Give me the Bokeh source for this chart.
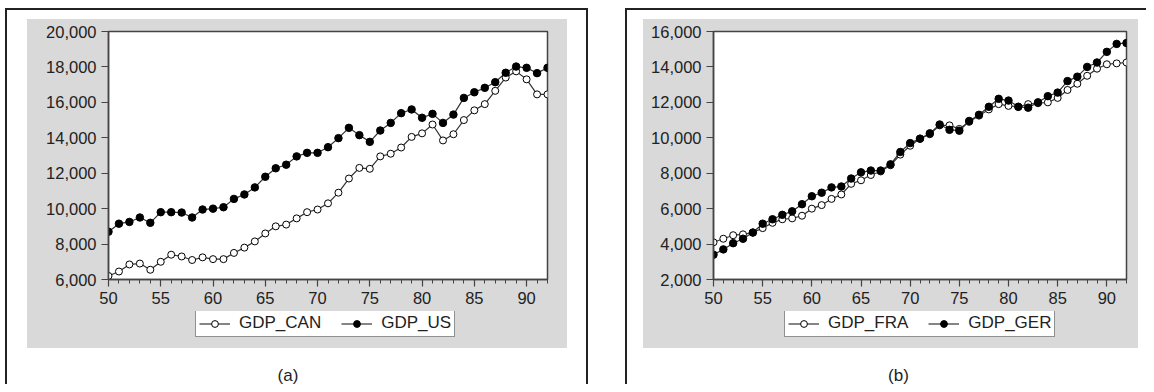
from bokeh.plotting import figure
from bokeh.models import (Legend, LegendItem, Range1d, Div,
                          SingleIntervalTicker, NumeralTickFormatter)
from bokeh.layouts import row, column
from bokeh.embed import file_html
from bokeh.resources import INLINE

years = list(range(50, 93))

gdp_can = [6200, 6450, 6850, 6900, 6550, 7000, 7400, 7300, 7100, 7250,
           7150, 7150, 7500, 7800, 8150, 8600, 9000, 9100, 9450, 9800,
           9950, 10300, 10900, 11700, 12300, 12250, 12950, 13100, 13450, 14050,
           14250, 14750, 13850, 14200, 15000, 15550, 15900, 16650, 17400, 17750,
           17300, 16450, 16450]
gdp_us = [8700, 9150, 9250, 9500, 9200, 9800, 9800, 9780, 9500, 9950,
          10000, 10080, 10550, 10800, 11200, 11800, 12280, 12480, 12950, 13150,
          13150, 13470, 13980, 14560, 14150, 13770, 14410, 14840, 15390, 15600,
          15130, 15350, 14840, 15310, 16250, 16570, 16820, 17140, 17670, 18020,
          17950, 17650, 17950]
gdp_fra = [4100, 4300, 4500, 4550, 4650, 4900, 5200, 5400, 5450, 5600,
           6000, 6200, 6550, 6800, 7400, 7600, 7900, 8100, 8450, 9050,
           9550, 9950, 10200, 10700, 10700, 10500, 10900, 11250, 11600, 11900,
           11800, 11750, 11900, 11950, 12000, 12250, 12700, 13050, 13500, 13900,
           14150, 14200, 14250]
gdp_ger = [3400, 3700, 4050, 4300, 4650, 5150, 5400, 5650, 5850, 6250,
           6700, 6900, 7200, 7250, 7700, 8050, 8150, 8150, 8500, 9200,
           9700, 9950, 10250, 10750, 10450, 10400, 10950, 11300, 11750, 12200,
           12100, 11750, 11700, 12000, 12350, 12550, 13200, 13450, 14000, 14250,
           14850, 15300, 15350]

FONT = "Liberation Sans"
GRAY = "#d9d9d9"
DARK = "#333333"


def series(p, vals, filled):
    ln = p.line(years, vals, line_color=DARK, line_width=1.2)
    sc = p.scatter(years, vals, size=7.5 if filled else 7, marker="circle",
                   fill_color="black" if filled else "white",
                   line_color="black", line_width=1)
    return ln, sc


def make_fig(width, height, bl, br, bt, bb, yr, open_vals, fill_vals):
    p = figure(width=width, height=height, output_backend="svg",
               toolbar_location=None,
               x_range=Range1d(50, 92), y_range=Range1d(*yr),
               min_border_left=bl, min_border_right=br,
               min_border_top=bt, min_border_bottom=bb,
               border_fill_color=GRAY, background_fill_color="white")
    p.grid.visible = False
    p.outline_line_color = "#444444"
    p.outline_line_width = 1.5

    series(p, open_vals, False)
    series(p, fill_vals, True)

    xa = p.xaxis[0]
    xa.ticker = SingleIntervalTicker(interval=5, num_minor_ticks=5)
    ya = p.yaxis[0]
    ya.ticker = SingleIntervalTicker(interval=2000, num_minor_ticks=0)
    ya.formatter = NumeralTickFormatter(format="0,0")
    for ax in (xa, ya):
        ax.axis_line_color = "#444444"
        ax.axis_line_width = 1.5
        ax.major_tick_line_color = "#444444"
        ax.major_tick_line_width = 1.2
        ax.major_tick_in = 0
        ax.major_tick_out = 7
        ax.minor_tick_in = 0
        ax.minor_tick_out = 4
        ax.minor_tick_line_color = "#444444"
        ax.major_label_text_font = FONT
        ax.major_label_text_font_size = "16.5px"
        ax.major_label_text_color = "#222222"
        ax.major_label_standoff = 5
    ya.minor_tick_line_color = None
    return p


def make_legend_fig(width, height, open_name, open_vals, fill_name,
                    fill_vals, lx, ly):
    # legend strip: the series are out of this strip's range, only the
    # legend glyphs are seen
    q = figure(width=width, height=height, output_backend="svg",
               toolbar_location=None, x_axis_type=None, y_axis_type=None,
               x_range=Range1d(0, 1), y_range=Range1d(0, 1), min_border=0,
               border_fill_color=GRAY, background_fill_color=GRAY,
               outline_line_color=None)
    q.grid.visible = False
    l1, s1 = series(q, open_vals, False)
    l2, s2 = series(q, fill_vals, True)
    legend = Legend(items=[LegendItem(label=open_name, renderers=[l1, s1]),
                           LegendItem(label=fill_name, renderers=[l2, s2])],
                    location=(lx, ly), orientation="horizontal",
                    border_line_color="#222222", border_line_width=1,
                    background_fill_color="white", background_fill_alpha=1,
                    label_text_font=FONT, label_text_font_size="17px",
                    label_text_color="#222222",
                    glyph_width=31, glyph_height=17, label_height=17,
                    label_standoff=9, spacing=20, padding=3, margin=0)
    q.add_layout(legend, "center")
    return q


def tag_div(text, width, shift):
    html = ('<div style="width:%dpx;padding-top:16px;text-align:center;'
            'font-family:\'Liberation Sans\';font-size:17px;color:#222;'
            'position:relative;left:%dpx">%s</div>' % (width, shift, text))
    return Div(text=html, width=width, height=36, margin=(0, 0, 0, 0))


pa = make_fig(540, 292, 81, 20, 12, 32, (6000, 20000), gdp_can, gdp_us)
la = make_legend_fig(540, 37, "GDP_CAN", gdp_can, "GDP_US", gdp_us, 87, 11)
pb = make_fig(495, 292, 70, 12, 12, 32, (2000, 16000), gdp_fra, gdp_ger)
lb = make_legend_fig(495, 37, "GDP_FRA", gdp_fra, "GDP_GER", gdp_ger, 71, 11)

inner_a = column(pa, la, spacing=0, styles={"background-color": GRAY})
inner_b = column(pb, lb, spacing=0, styles={"background-color": GRAY})

col_a = column(inner_a, tag_div("(a)", 540, -9), spacing=0,
               styles={"border-top": "2px solid #222",
                       "border-left": "2px solid #222",
                       "border-right": "2px solid #222",
                       "padding": "9px 19px 0px 20px",
                       "margin-left": "5px", "margin-top": "8px"})
col_b = column(inner_b, tag_div("(b)", 495, 8), spacing=0,
               styles={"border-top": "2px solid #222",
                       "border-left": "2px solid #222",
                       "padding": "9px 8px 0px 16px",
                       "margin-top": "8px"})

layout = row(col_a, col_b, spacing=37)
open("out.html", "w").write(file_html(layout, INLINE))
